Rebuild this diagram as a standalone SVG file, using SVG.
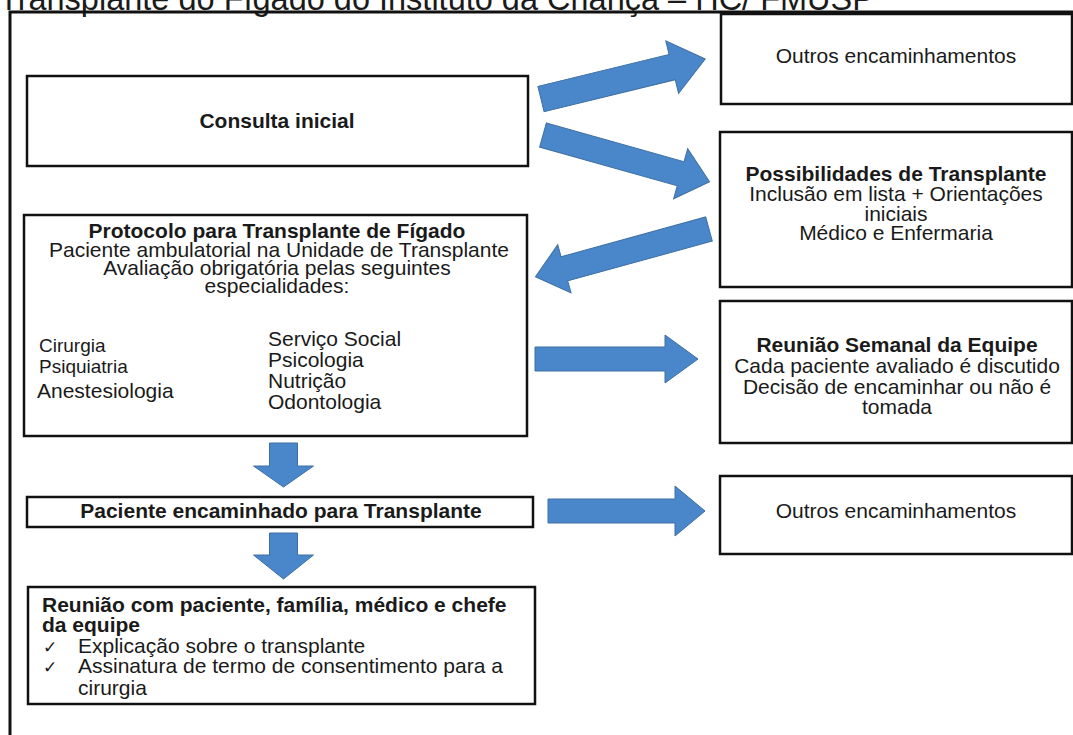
<svg xmlns="http://www.w3.org/2000/svg" width="1073" height="735" viewBox="0 0 1073 735">
<style>
.box{fill:#fff;stroke:#111;stroke-width:2.5}
.t{font-family:"Liberation Sans",Arial,sans-serif;font-size:21px;fill:#1a1a1a}
.b{font-weight:bold}
.m{text-anchor:middle}
.ck{font-family:"DejaVu Sans",sans-serif;font-size:17px;fill:#1a1a1a}
.arrow{fill:#4A87CA;stroke:#3E6FA3;stroke-width:1}
</style>
<rect width="1073" height="735" fill="#fff"/>
<text class="t" x="-1" y="10" style="font-size:32.5px">Transplante do Fígado do Instituto da Criança – HC/ FMUSP</text>
<path d="M10,735 V12 H1073" fill="none" stroke="#111" stroke-width="3"/>

<g id="consulta">
<rect class="box" x="27" y="76" width="501" height="90"/>
<text class="t b m" x="277" y="128">Consulta inicial</text>
</g>

<g id="outros1">
<rect class="box" x="721" y="14" width="351" height="90"/>
<text class="t m" x="896" y="63">Outros encaminhamentos</text>
</g>

<g id="possibilidades">
<rect class="box" x="720" y="132" width="352" height="155"/>
<text class="t b m" x="896" y="181">Possibilidades de Transplante</text>
<text class="t m" x="896" y="201">Inclusão em lista + Orientações</text>
<text class="t m" x="896" y="221">iniciais</text>
<text class="t m" x="896" y="240">Médico e Enfermaria</text>
</g>

<g id="protocolo">
<rect class="box" x="24" y="215" width="503" height="221"/>
<text class="t b m" x="277" y="238">Protocolo para Transplante de Fígado</text>
<text class="t m" x="279" y="257">Paciente ambulatorial na Unidade de Transplante</text>
<text class="t m" x="277" y="275">Avaliação obrigatória pelas seguintes</text>
<text class="t m" x="277" y="293">especialidades:</text>
<text class="t" x="39" y="352" style="font-size:19px">Cirurgia</text>
<text class="t" x="39" y="373" style="font-size:19px">Psiquiatria</text>
<text class="t" x="37" y="398">Anestesiologia</text>
<text class="t" x="268" y="346">Serviço Social</text>
<text class="t" x="268" y="367">Psicologia</text>
<text class="t" x="268" y="388">Nutrição</text>
<text class="t" x="268" y="409">Odontologia</text>
</g>

<g id="reuniao-semanal">
<rect class="box" x="720" y="301" width="352" height="142"/>
<text class="t b m" x="897" y="352">Reunião Semanal da Equipe</text>
<text class="t m" x="897" y="373">Cada paciente avaliado é discutido</text>
<text class="t m" x="897" y="394">Decisão de encaminhar ou não é</text>
<text class="t m" x="897" y="414">tomada</text>
</g>

<g id="paciente-encaminhado">
<rect class="box" x="27" y="497" width="506" height="30"/>
<text class="t b m" x="281" y="518">Paciente encaminhado para Transplante</text>
</g>

<g id="outros2">
<rect class="box" x="720" y="476" width="352" height="78"/>
<text class="t m" x="896" y="518">Outros encaminhamentos</text>
</g>

<g id="reuniao-paciente">
<rect class="box" x="28" y="587" width="507" height="117"/>
<text class="t b" x="42" y="612">Reunião com paciente, família, médico e chefe</text>
<text class="t b" x="42" y="632">da equipe</text>
<text class="ck" x="43" y="653">✓</text>
<text class="t" x="78" y="653">Explicação sobre o transplante</text>
<text class="ck" x="43" y="673">✓</text>
<text class="t" x="78" y="673">Assinatura de termo de consentimento para a</text>
<text class="t" x="78" y="695">cirurgia</text>
</g>

<g id="connectors">
<polygon class="arrow" transform="translate(541,99) rotate(-13.7)" points="0,-13 135,-13 135,-27 169,0 135,27 135,13 0,13"/>
<polygon class="arrow" transform="translate(543,135) rotate(15.7)" points="0,-12.5 143,-12.5 143,-26 173,0 143,26 143,12.5 0,12.5"/>
<polygon class="arrow" transform="translate(709,229) rotate(164.6)" points="0,-12.5 150,-12.5 150,-25 180,0 150,25 150,12.5 0,12.5"/>
<polygon class="arrow" points="535,347 665,347 665,335 698,359 665,383 665,371 535,371"/>
<polygon class="arrow" points="548,499 675,499 675,486 705,511 675,536 675,523 548,523"/>
<polygon class="arrow" points="269.5,443 297.5,443 297.5,466 313.5,466 283.5,487 253.5,466 269.5,466"/>
<polygon class="arrow" points="269.5,533 297.5,533 297.5,555 313.5,555 283.5,579 253.5,555 269.5,555"/>
</g>
</svg>
